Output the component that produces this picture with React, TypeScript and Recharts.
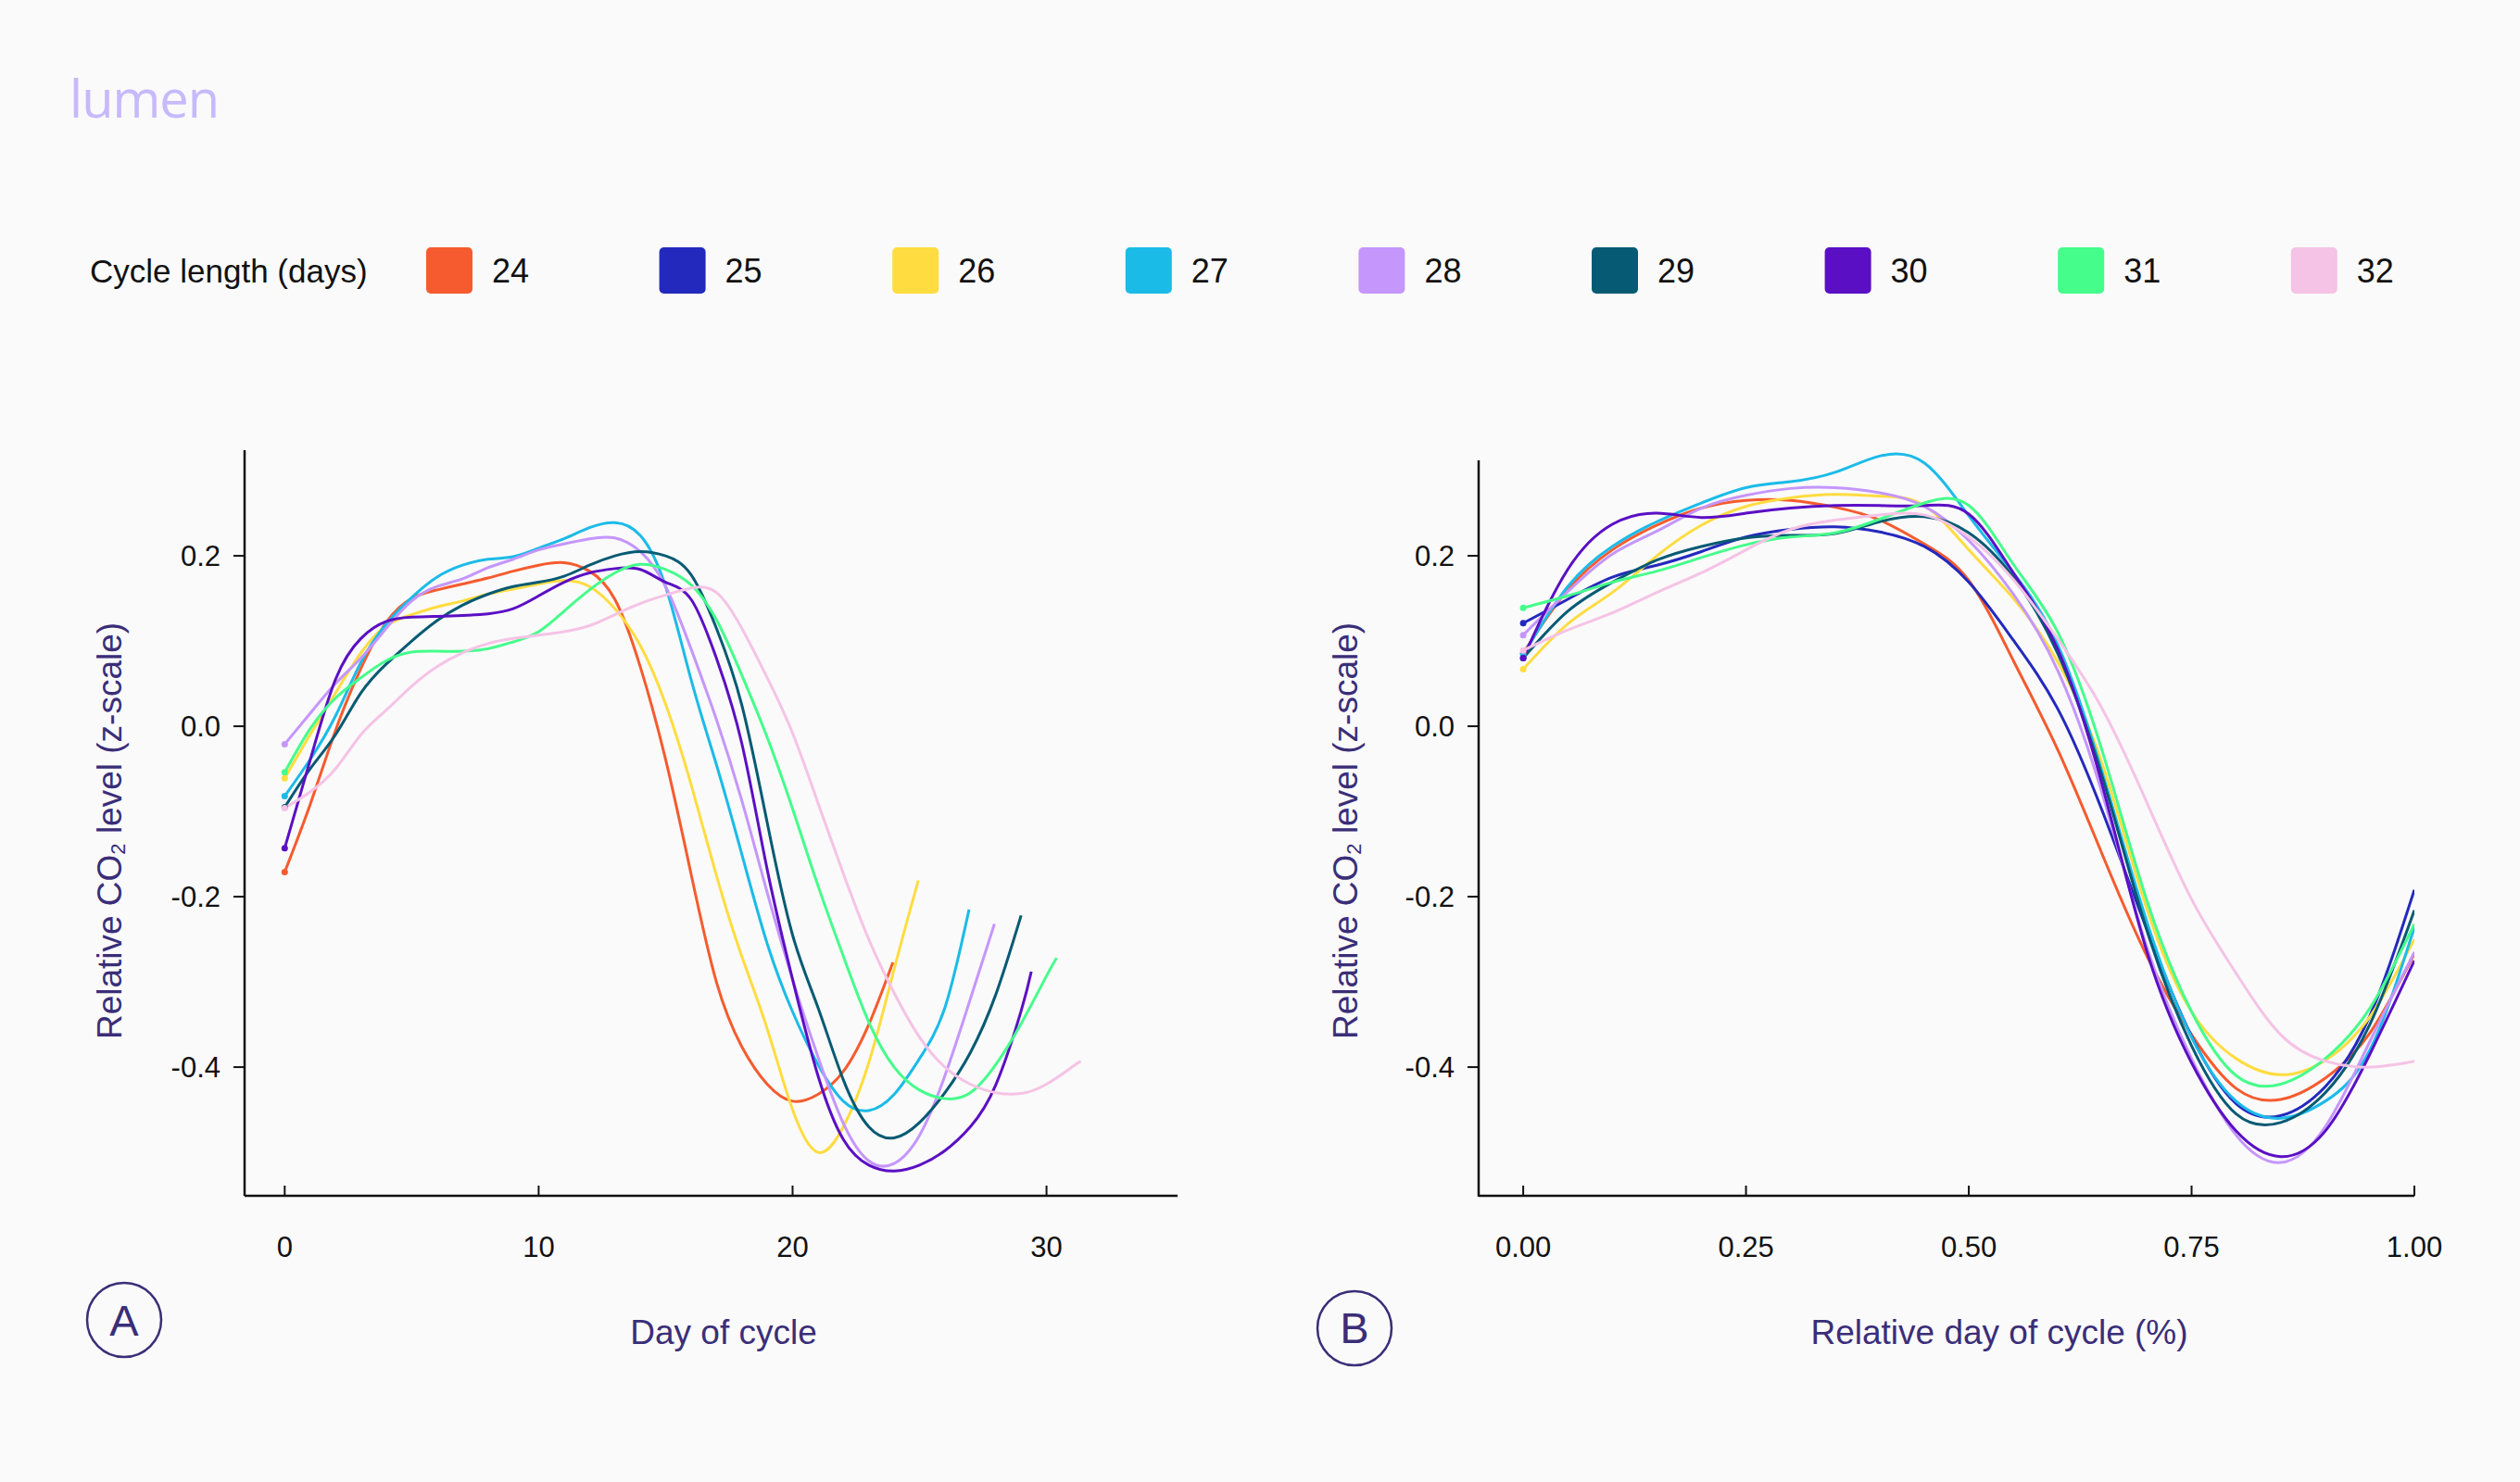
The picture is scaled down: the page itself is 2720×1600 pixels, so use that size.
import React from "react";
import { LineChart, Line, XAxis, YAxis } from "recharts";

// legend / series
const CYCLE_LENGTHS = [24, 25, 26, 27, 28, 29, 30, 31, 32];
const SERIES_COLORS = [
  "#f55b2e",
  "#2429bd",
  "#ffdc40",
  "#1bbbe8",
  "#c596fc",
  "#065a73",
  "#5b0fc4",
  "#45fd8b",
  "#f5c3e5",
];

// Panel A: one value per day (0, 1, 2, ...); the last value sits on the curve's end day
const A_24 = [-0.171, -0.092, -0.005, 0.068, 0.122, 0.15, 0.16, 0.167, 0.174, 0.182, 0.189, 0.192, 0.182, 0.149, 0.07, -0.039, -0.173, -0.3, -0.376, -0.42, -0.44, -0.432, -0.405, -0.35, -0.277];
const A_26 = [-0.061, -0.01, 0.039, 0.086, 0.118, 0.131, 0.14, 0.147, 0.155, 0.161, 0.167, 0.171, 0.164, 0.138, 0.095, 0.026, -0.068, -0.175, -0.27, -0.355, -0.45, -0.5, -0.47, -0.395, -0.285, -0.181];
const A_27 = [-0.082, -0.039, 0.012, 0.075, 0.12, 0.151, 0.175, 0.189, 0.196, 0.199, 0.209, 0.22, 0.233, 0.239, 0.224, 0.164, 0.055, -0.045, -0.15, -0.255, -0.335, -0.397, -0.44, -0.451, -0.432, -0.39, -0.33, -0.215];
const A_28 = [-0.021, 0.015, 0.05, 0.08, 0.115, 0.147, 0.164, 0.173, 0.186, 0.196, 0.207, 0.214, 0.22, 0.221, 0.205, 0.164, 0.091, 0.008, -0.087, -0.195, -0.297, -0.388, -0.466, -0.51, -0.513, -0.48, -0.41, -0.32, -0.232];
const A_29 = [-0.095, -0.05, -0.01, 0.039, 0.073, 0.1, 0.124, 0.142, 0.155, 0.164, 0.169, 0.176, 0.189, 0.2, 0.205, 0.2, 0.178, 0.115, 0.025, -0.113, -0.245, -0.33, -0.415, -0.47, -0.483, -0.465, -0.43, -0.383, -0.315, -0.222];
const A_30 = [-0.143, -0.04, 0.055, 0.103, 0.123, 0.128, 0.129, 0.13, 0.132, 0.138, 0.153, 0.169, 0.18, 0.185, 0.184, 0.169, 0.149, 0.08, -0.02, -0.168, -0.297, -0.41, -0.485, -0.515, -0.522, -0.515, -0.498, -0.47, -0.421, -0.334, -0.288];
const A_31 = [-0.054, -0.003, 0.033, 0.057, 0.077, 0.087, 0.088, 0.088, 0.091, 0.099, 0.111, 0.135, 0.16, 0.18, 0.19, 0.184, 0.166, 0.125, 0.06, -0.013, -0.097, -0.187, -0.27, -0.347, -0.4, -0.427, -0.437, -0.43, -0.397, -0.349, -0.293, -0.272];
const A_32 = [-0.096, -0.077, -0.05, -0.01, 0.019, 0.047, 0.07, 0.086, 0.097, 0.103, 0.107, 0.111, 0.118, 0.131, 0.144, 0.154, 0.162, 0.157, 0.115, 0.057, -0.008, -0.09, -0.173, -0.25, -0.313, -0.365, -0.4, -0.42, -0.43, -0.431, -0.42, -0.4, -0.393];
const A_END_DAY = [23.95, 24.95, 26.95, 27.95, 29.0, 29.4, 30.4, 31.35];
const A_SERIES = [
  { cycle: 24, values: A_24 },
  { cycle: 26, values: A_26 },
  { cycle: 27, values: A_27 },
  { cycle: 28, values: A_28 },
  { cycle: 29, values: A_29 },
  { cycle: 30, values: A_30 },
  { cycle: 31, values: A_31 },
  { cycle: 32, values: A_32 },
];

// Panel B: relative day of cycle
const B_STEPS = [0, 0.05, 0.1, 0.15, 0.2, 0.25, 0.3, 0.35, 0.4, 0.45, 0.5, 0.55, 0.6, 0.65, 0.7, 0.75, 0.8, 0.85, 0.9, 0.95, 1.0];
const B_24 = [0.086, 0.16, 0.207, 0.236, 0.256, 0.265, 0.265, 0.257, 0.242, 0.214, 0.171, 0.077, -0.028, -0.151, -0.27, -0.362, -0.425, -0.438, -0.413, -0.36, -0.267];
const B_25 = [0.121, 0.149, 0.175, 0.189, 0.205, 0.222, 0.231, 0.234, 0.228, 0.211, 0.169, 0.101, 0.02, -0.1, -0.239, -0.364, -0.443, -0.457, -0.423, -0.34, -0.192];
const B_26 = [0.067, 0.12, 0.157, 0.2, 0.236, 0.258, 0.268, 0.272, 0.27, 0.259, 0.207, 0.15, 0.075, -0.045, -0.215, -0.335, -0.39, -0.409, -0.392, -0.341, -0.25];
const B_27 = [0.084, 0.164, 0.211, 0.24, 0.262, 0.28, 0.287, 0.298, 0.317, 0.309, 0.247, 0.18, 0.095, -0.055, -0.23, -0.365, -0.44, -0.46, -0.44, -0.38, -0.236];
const B_28 = [0.107, 0.158, 0.202, 0.229, 0.256, 0.271, 0.279, 0.28, 0.274, 0.258, 0.218, 0.155, 0.065, -0.08, -0.26, -0.39, -0.48, -0.512, -0.47, -0.37, -0.265];
const B_29 = [0.08, 0.135, 0.169, 0.195, 0.211, 0.221, 0.224, 0.226, 0.24, 0.246, 0.227, 0.175, 0.085, -0.06, -0.24, -0.375, -0.455, -0.465, -0.43, -0.35, -0.216];
const B_30 = [0.08, 0.184, 0.237, 0.25, 0.245, 0.25, 0.256, 0.259, 0.259, 0.259, 0.249, 0.18, 0.09, -0.07, -0.265, -0.395, -0.475, -0.505, -0.475, -0.385, -0.275];
const B_31 = [0.139, 0.153, 0.169, 0.182, 0.198, 0.213, 0.222, 0.227, 0.243, 0.262, 0.259, 0.19, 0.11, -0.03, -0.205, -0.335, -0.41, -0.42, -0.39, -0.331, -0.232];
const B_32 = [0.089, 0.113, 0.133, 0.157, 0.18, 0.207, 0.231, 0.242, 0.248, 0.248, 0.222, 0.172, 0.102, 0.02, -0.09, -0.203, -0.29, -0.362, -0.393, -0.4, -0.393];
const B_SERIES = [B_24, B_25, B_26, B_27, B_28, B_29, B_30, B_31, B_32];

// axis ticks
const A_X_TICKS = [0, 10, 20, 30];
const B_X_TICKS = [0, 0.25, 0.5, 0.75, 1.0];
const Y_TICKS = [-0.4, -0.2, 0, 0.2];

const INK = "#111";
const TITLE = "#3a2e78";
const FONT = '"Liberation Sans", Arial, Helvetica, sans-serif';

const colorOf = (cycle: number) => SERIES_COLORS[CYCLE_LENGTHS.indexOf(cycle)];

const makeXTick = (fmt: (v: number) => string) => (props: any) => {
  const { x, y, payload } = props;
  return (
    <g>
      <line x1={x} x2={x} y1={y} y2={y - 11} stroke={INK} strokeWidth={2} />
      <text x={x} y={y + 66} textAnchor="middle" fontSize={31} fill={INK} fontFamily={FONT}>
        {fmt(payload.value)}
      </text>
    </g>
  );
};

const YTick = (props: any) => {
  const { x, y, payload } = props;
  return (
    <g>
      <line x1={x - 12} x2={x} y1={y} y2={y} stroke={INK} strokeWidth={2} />
      <text x={x - 26} y={y} dy="0.36em" textAnchor="end" fontSize={31} fill={INK} fontFamily={FONT}>
        {Number(payload.value).toFixed(1)}
      </text>
    </g>
  );
};

const startDot = (color: string) => (props: any) => {
  const { cx, cy, index } = props;
  if (index !== 0) return <g key={`d-${index}`} />;
  return <circle key={`d-${index}`} cx={cx} cy={cy} r={3.5} fill={color} />;
};

function Panel({
  left,
  width,
  margin,
  xDomain,
  yDomain,
  xTicks,
  xFmt,
  showYLine,
  lines,
}: {
  left: number;
  width: number;
  margin: { top: number; right: number; bottom: number; left: number };
  xDomain: [number, number];
  yDomain: [number, number];
  xTicks: number[];
  xFmt: (v: number) => string;
  showYLine: boolean;
  lines: { key: string; color: string; points: { x: number; v: number }[] }[];
}) {
  return (
    <div style={{ position: "absolute", left, top: 0, width, height: 1600 }}>
      <LineChart width={width} height={1600} margin={margin}>
        <XAxis
          type="number"
          dataKey="x"
          domain={xDomain}
          ticks={xTicks}
          allowDataOverflow
          height={60}
          tickSize={0}
          tickMargin={0}
          tickLine={false}
          axisLine={{ stroke: INK, strokeWidth: 2.5 }}
          tick={makeXTick(xFmt)}
          interval={0}
        />
        <YAxis
          type="number"
          dataKey="v"
          domain={yDomain}
          ticks={Y_TICKS}
          allowDataOverflow
          width={80}
          tickSize={0}
          tickMargin={0}
          tickLine={false}
          axisLine={showYLine ? { stroke: INK, strokeWidth: 2.5 } : false}
          tick={YTick}
          interval={0}
        />
        {lines.map((l) => (
          <Line
            key={l.key}
            data={l.points}
            dataKey="v"
            type="natural"
            stroke={l.color}
            strokeWidth={3}
            dot={startDot(l.color)}
            activeDot={false}
            isAnimationActive={false}
          />
        ))}
      </LineChart>
    </div>
  );
}

export default function App() {
  const linesA = A_SERIES.map((s, si) => ({
    key: `a-${s.cycle}`,
    color: colorOf(s.cycle),
    points: s.values.map((v, i) => ({ x: i === s.values.length - 1 ? A_END_DAY[si] : i, v })),
  }));
  const linesB = B_SERIES.map((vals, si) => ({
    key: `b-${CYCLE_LENGTHS[si]}`,
    color: SERIES_COLORS[si],
    points: vals.map((v, i) => ({ x: B_STEPS[i], v })),
  }));

  return (
    <div
      style={{
        position: "absolute",
        left: 0,
        top: 0,
        width: 2720,
        height: 1600,
        background: "#fafafa",
        overflow: "hidden",
        fontFamily: FONT,
      }}
    >
      <Panel
        left={0}
        width={1400}
        margin={{ top: 486, right: 129, bottom: 249, left: 184 }}
        xDomain={[-1.58, 35.16]}
        yDomain={[-0.551, 0.324]}
        xTicks={A_X_TICKS}
        xFmt={(v) => String(v)}
        showYLine={true}
        lines={linesA}
      />
      <Panel
        left={1340}
        width={1380}
        margin={{ top: 480, right: 114, bottom: 249, left: 176 }}
        xDomain={[-0.05, 1.0]}
        yDomain={[-0.551, 0.3305]}
        xTicks={B_X_TICKS}
        xFmt={(v) => v.toFixed(2)}
        showYLine={false}
        lines={linesB}
      />

      <svg
        width={2720}
        height={1600}
        style={{ position: "absolute", left: 0, top: 0, pointerEvents: "none" }}
        fontFamily={FONT}
      >
        <line x1={1596} x2={1596} y1={497} y2={1292} stroke={INK} strokeWidth={2.5} />

        <text x={75} y={127} fontSize={56} fill="#c7b9fb" fontFamily='"Open Sans", sans-serif' letterSpacing={-1}>
          lumen
        </text>

        <text x={97} y={305} fontSize={35} fill={INK}>
          Cycle length (days)
        </text>
        {CYCLE_LENGTHS.map((c, i) => {
          const x = 460 + i * 251.6;
          return (
            <g key={c}>
              <rect x={x} y={267} width={50} height={50} rx={5} fill={SERIES_COLORS[i]} />
              <text x={x + 71} y={305} fontSize={36} fill={INK}>
                {c}
              </text>
            </g>
          );
        })}

        {[118, 1452].map((cx) => (
          <text
            key={cx}
            transform={`translate(${cx},897) rotate(-90)`}
            textAnchor="middle"
            dominantBaseline="central"
            fontSize={37}
            fill={TITLE}
          >
            Relative CO
            <tspan fontSize={22} dy={9}>
              2
            </tspan>
            <tspan dy={-9}> level (z-scale)</tspan>
          </text>
        ))}

        <text x={781} y={1451} textAnchor="middle" fontSize={37} fill={TITLE}>
          Day of cycle
        </text>
        <text x={2158} y={1451} textAnchor="middle" fontSize={37} fill={TITLE}>
          Relative day of cycle (%)
        </text>

        <circle cx={134} cy={1425} r={40} fill="none" stroke={TITLE} strokeWidth={2.5} />
        <text x={134} y={1442} textAnchor="middle" fontSize={47} fill={TITLE}>
          A
        </text>
        <circle cx={1462} cy={1434} r={40} fill="none" stroke={TITLE} strokeWidth={2.5} />
        <text x={1462} y={1450} textAnchor="middle" fontSize={47} fill={TITLE}>
          B
        </text>
      </svg>
    </div>
  );
}
